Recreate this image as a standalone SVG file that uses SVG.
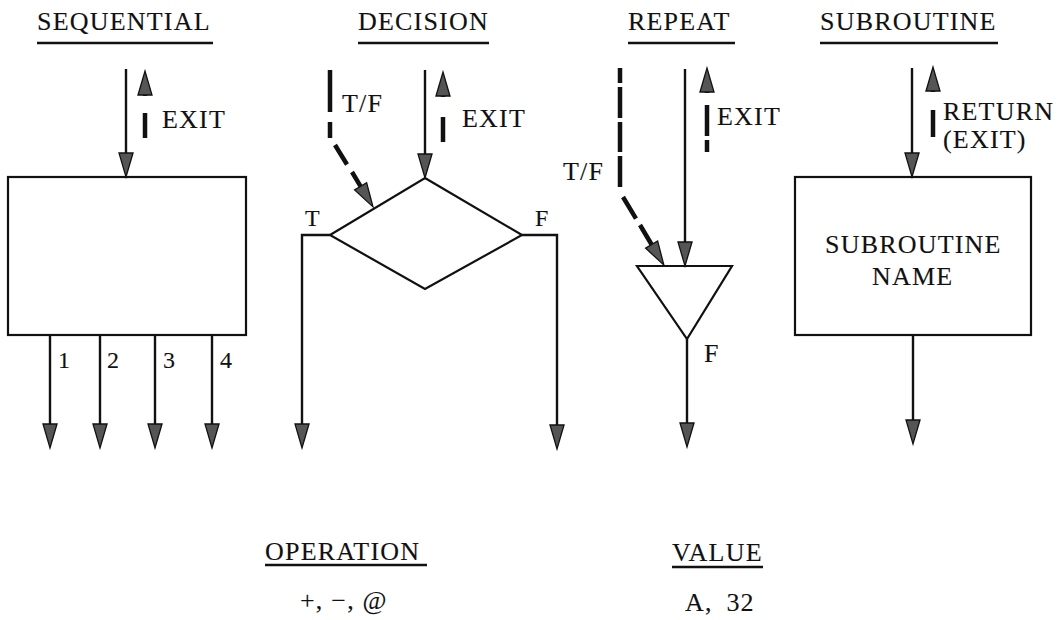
<svg xmlns="http://www.w3.org/2000/svg" width="1063" height="620" viewBox="0 0 1063 620">
  <style>
    text { font-family: "Liberation Serif", "Times New Roman", serif; font-size: 26px; fill: #111; stroke: #111; stroke-width: 0.12; letter-spacing: 1.2px; }
    .small { font-size: 24px; letter-spacing: 0.5px; }
    .shape { fill: none; stroke: #111; stroke-width: 2.2; stroke-linejoin: miter; }
    .rule { stroke: #111; stroke-width: 2.4; }
    .flow { fill: none; stroke: #111; stroke-width: 2.4; marker-end: url(#head); }
    .exit { fill: none; stroke: #111; stroke-width: 4.5; marker-end: url(#head); }
  </style>
  <defs>
    <marker id="head" viewBox="0 -8 26 16" markerWidth="26" markerHeight="16" refX="0" refY="0" orient="auto" markerUnits="userSpaceOnUse" overflow="visible">
      <path d="M0,-7 L24,0 L0,7 Z" fill="#555" stroke="#111" stroke-width="1.3" stroke-linejoin="miter"/>
    </marker>
  </defs>
  <rect width="1063" height="620" fill="#fff"/>

  <!-- column headings -->
  <g id="headings">
    <text x="37" y="30">SEQUENTIAL</text>
    <line class="rule" x1="37" y1="43" x2="213" y2="43"/>
    <text x="358" y="30">DECISION</text>
    <line class="rule" x1="358" y1="43" x2="489" y2="43"/>
    <text x="628" y="30">REPEAT</text>
    <line class="rule" x1="628" y1="43" x2="735" y2="43"/>
    <text x="820" y="30">SUBROUTINE</text>
    <line class="rule" x1="820" y1="43" x2="998" y2="43"/>
  </g>

  <!-- sequential block -->
  <g id="sequential">
    <rect class="shape" x="8" y="177" width="238" height="158"/>
    <text x="162" y="128">EXIT</text>
    <text class="small" x="58" y="368">1</text>
    <text class="small" x="107" y="368">2</text>
    <text class="small" x="163" y="368">3</text>
    <text class="small" x="220" y="368">4</text>
  </g>

  <!-- decision diamond -->
  <g id="decision">
    <polygon class="shape" points="425,178 522,235 425,289 330,235"/>
    <text x="342" y="112">T/F</text>
    <text x="462" y="127">EXIT</text>
    <text class="small" x="305" y="226">T</text>
    <text class="small" x="535" y="226">F</text>
  </g>

  <!-- repeat triangle -->
  <g id="repeat">
    <polygon class="shape" points="637,266 732,266 687,339"/>
    <text x="563" y="180">T/F</text>
    <text x="717" y="125">EXIT</text>
    <text x="704" y="362">F</text>
  </g>

  <!-- subroutine box -->
  <g id="subroutine">
    <rect class="shape" x="795" y="177" width="236" height="158"/>
    <text x="825" y="253">SUBROUTINE</text>
    <text x="872" y="285">NAME</text>
    <text x="943" y="120">RETURN</text>
    <text x="943" y="148" letter-spacing="0" font-size="25">(EXIT)</text>
  </g>

  <!-- operand legends -->
  <g id="operation">
    <text x="265" y="560">OPERATION</text>
    <line class="rule" x1="265" y1="565" x2="427" y2="565"/>
    <text x="300" y="609">+, −, @</text>
  </g>
  <g id="value">
    <text x="672" y="561">VALUE</text>
    <line class="rule" x1="672" y1="567" x2="763" y2="567"/>
    <text x="685" y="611" word-spacing="6">A, 32</text>
  </g>

  <!-- connectors -->
  <g id="connectors">
    <!-- sequential -->
    <path class="flow" d="M126,69 V153"/>
    <path class="exit" d="M145,138 V113 M145,96 V95"/>
    <path class="flow" d="M50,335 V424"/>
    <path class="flow" d="M100,335 V424"/>
    <path class="flow" d="M155,335 V424"/>
    <path class="flow" d="M212,335 V424"/>
    <!-- decision -->
    <path class="flow" d="M425,70 V154"/>
    <path class="exit" d="M443,142 V117 M443,97 V96"/>
    <path class="exit" d="M330,70 V112 M330,122 V138 M335,145 L347,164.5 M352,172 L360.6,186.3"/>
    <path class="flow" d="M330,235 H302 V424" stroke-width="3"/>
    <path class="flow" d="M522,235 H557 V425" stroke-width="3"/>
    <!-- repeat -->
    <path class="flow" d="M685,69 V242"/>
    <path class="exit" d="M620,68 V83 M620,87 V118 M620,122 V152 M620,156 V187 M623,197 L636,218.6 M640,225 L651.6,244.5"/>
    <path class="exit" d="M707,152 V140 M707,136 V105 M707,93 V92"/>
    <path class="flow" d="M687,339 V423" stroke-width="3"/>
    <!-- subroutine -->
    <path class="flow" d="M912,68 V153"/>
    <path class="exit" d="M933,137 V110 M933,92 V91"/>
    <path class="flow" d="M913,335 V420"/>
  </g>
</svg>
